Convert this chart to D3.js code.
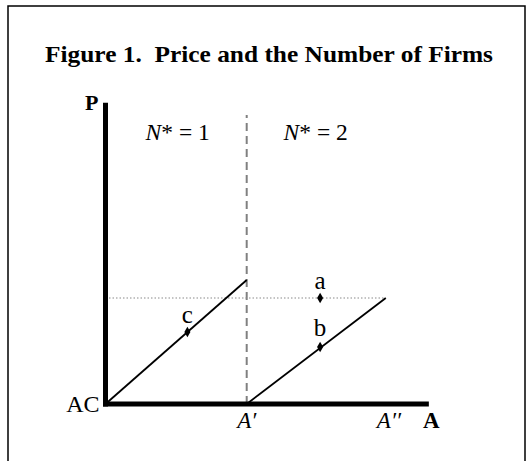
<!DOCTYPE html>
<html>
<head>
<meta charset="utf-8">
<script src="https://cdn.jsdelivr.net/npm/d3@7"></script>
<style>
    body { margin: 0; background: #fff; }
    text { font-family: "Liberation Serif", "DejaVu Serif", serif; fill: #000; white-space: pre; }
</style>
</head>
<body>
<div id="chart"></div>
<script>
// chart data (A in units of A', P in units of AC-to-kink height)
var titleText = "Figure 1.  Price and the Number of Firms";
var axisLimits = {x: 2.29, y: 2.43};
var regionBoundary = 1;              // A'
var regionLabels = ["1", "2"];       // N* on each side
var xTickValues = [1, 2];
var xTickLabels = ["A\u2032", "A\u2032\u2032"];
var priceLevel = 0.855;               // dotted horizontal
var segLeft = [[0, 0], [1, 1]];
var segRight = [[1, 0], [1.985, 0.855]];
var pointNames = ["a", "b", "c"];
var pointX = [1.52, 1.52, 0.58];
var pointY = [0.855, 0.46, 0.58];

var width = 529, height = 461;

var svg = d3.select("#chart").append("svg")
    .attr("width", width)
    .attr("height", height);

// frame (open at the bottom)
svg.append("path")
    .attr("d", "M8,461 L8,6 L525,6 L525,461")
    .attr("fill", "none")
    .attr("stroke", "#000")
    .attr("stroke-width", 1.5);

var title = svg.append("text")
    .attr("x", 269)
    .attr("y", 62)
    .attr("text-anchor", "middle")
    .attr("font-size", 23)
    .attr("font-weight", "bold")
    .text(titleText);
// stretch gently to the reference width if the fallback font is narrower
if (title.node().getComputedTextLength() < 440) {
    title.attr("textLength", 448).attr("lengthAdjust", "spacingAndGlyphs");
}

var x = d3.scaleLinear().domain([0, 1]).range([105.5, 246.7]);
var y = d3.scaleLinear().domain([0, 1]).range([404, 280]);

var line = d3.line()
    .x(function(d){ return x(d[0]); })
    .y(function(d){ return y(d[1]); });

// dashed boundary at A'
svg.append("line")
    .attr("x1", x(regionBoundary)).attr("x2", x(regionBoundary))
    .attr("y1", y(0)).attr("y2", y(2.33))
    .attr("stroke", "#808080")
    .attr("stroke-width", 2)
    .attr("stroke-dasharray", "8,5");

// dotted price level
svg.append("line")
    .attr("x1", x(0)).attr("x2", x(segRight[1][0]))
    .attr("y1", y(priceLevel)).attr("y2", y(priceLevel))
    .attr("stroke", "#8a8a8a")
    .attr("stroke-width", 1.2)
    .attr("stroke-dasharray", "1.5,2");

// the two price lines
[segLeft, segRight].forEach(function(seg){
    svg.append("path")
        .attr("d", line(seg))
        .attr("fill", "none")
        .attr("stroke", "#000")
        .attr("stroke-width", 1.8);
});

// axes
svg.append("line")
    .attr("x1", x(0)).attr("x2", x(0))
    .attr("y1", y(0) + 2.5).attr("y2", y(axisLimits.y))
    .attr("stroke", "#000").attr("stroke-width", 5);
svg.append("line")
    .attr("x1", x(0) - 2.5).attr("x2", x(axisLimits.x))
    .attr("y1", y(0)).attr("y2", y(0))
    .attr("stroke", "#000").attr("stroke-width", 5);

// labels on axes
svg.append("text")
    .attr("x", 85).attr("y", 110)
    .attr("font-size", 22).attr("font-weight", "bold")
    .text("P");
svg.append("text")
    .attr("x", 423).attr("y", 428)
    .attr("font-size", 23).attr("font-weight", "bold")
    .text("A");
svg.append("text")
    .attr("x", x(0) - 6).attr("y", 412)
    .attr("text-anchor", "end")
    .attr("font-size", 24)
    .text("AC");

xTickValues.forEach(function(v, i){
    svg.append("text")
        .attr("x", x(v) + (i == 0 ? 0 : 1)).attr("y", 428)
        .attr("text-anchor", "middle")
        .attr("font-size", 23)
        .attr("font-style", "italic")
        .text(xTickLabels[i]);
});

// N* region labels
var regionX = [x(regionBoundary) - 69, x(regionBoundary) + 69];
regionLabels.forEach(function(lab, i){
    var t = svg.append("text")
        .attr("x", regionX[i]).attr("y", 140)
        .attr("text-anchor", "middle")
        .attr("font-size", 23.5);
    t.append("tspan").attr("font-style", "italic").text("N");
    t.append("tspan").text("* = " + lab);
});

// marked points
var diamond = d3.symbol().type(d3.symbolDiamond).size(32);
var labelOffset = [-9, -11, -9];
pointNames.forEach(function(name, i){
    svg.append("path")
        .attr("d", diamond())
        .attr("transform", "translate(" + x(pointX[i]) + "," + y(pointY[i]) + ")")
        .attr("fill", "#000");
    svg.append("text")
        .attr("x", x(pointX[i]))
        .attr("y", y(pointY[i]) + labelOffset[i])
        .attr("text-anchor", "middle")
        .attr("font-size", 25)
        .text(name);
});
</script>
</body>
</html>
